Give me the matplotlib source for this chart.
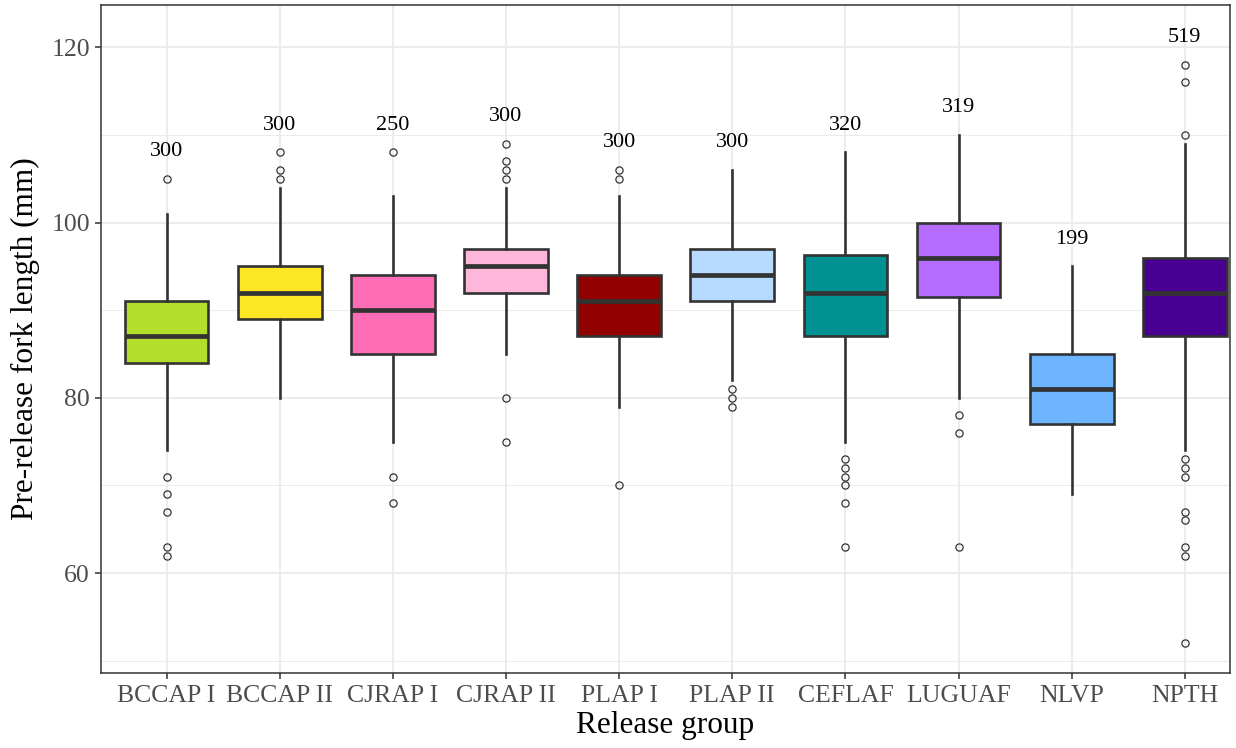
import matplotlib
matplotlib.use("Agg")
import matplotlib.pyplot as plt
from matplotlib.ticker import MultipleLocator

groups = ["BCCAP I", "BCCAP II", "CJRAP I", "CJRAP II", "PLAP I",
          "PLAP II", "CEFLAF", "LUGUAF", "NLVP", "NPTH"]
counts = [300, 300, 250, 300, 300, 300, 320, 319, 199, 519]

q1 = [84, 89, 85, 92, 87, 91, 87, 91.5, 77, 87]
median = [87, 92, 90, 95, 91, 94, 92, 96, 81, 92]
q3 = [91, 95, 94, 97, 94, 97, 96.25, 100, 85, 96]
whisk_lo = [74, 80, 75, 85, 79, 82, 75, 80, 69, 74]
whisk_hi = [101, 104, 103, 104, 103, 106, 108, 110, 95, 109]
outliers = [
    [105, 71, 69, 67, 63, 62],
    [108, 106, 105],
    [108, 71, 68],
    [109, 107, 106, 105, 80, 75],
    [106, 105, 70],
    [81, 80, 79],
    [73, 72, 71, 70, 68, 63],
    [78, 76, 63],
    [],
    [118, 116, 110, 73, 72, 71, 67, 66, 63, 62, 52],
]

colors = ["#B4DE2C", "#FDE725", "#FF6DB6", "#FFB6DB", "#920000",
          "#B6DBFF", "#009292", "#B66DFF", "#6DB6FF", "#490092"]

plt.rcParams["font.family"] = ["Liberation Serif", "DejaVu Serif"]

fig = plt.figure(figsize=(12.36, 7.48), dpi=100)
ax = fig.add_axes([0.0817, 0.1003, 0.9135, 0.8927])

stats = []
for i, g in enumerate(groups):
    stats.append(dict(label=g, q1=q1[i], med=median[i], q3=q3[i],
                      whislo=whisk_lo[i], whishi=whisk_hi[i],
                      fliers=outliers[i]))

edge = "#333333"
bp = ax.bxp(stats, positions=range(len(groups)), widths=0.74,
            patch_artist=True, showcaps=False, zorder=3,
            boxprops=dict(edgecolor=edge, linewidth=1.9),
            whiskerprops=dict(color=edge, linewidth=1.9),
            medianprops=dict(color=edge, linewidth=3.4, solid_capstyle="butt"),
            flierprops=dict(marker="o", markersize=5.2, markerfacecolor="none",
                            markeredgecolor=edge, markeredgewidth=0.9))
for patch, c in zip(bp["boxes"], colors):
    patch.set_facecolor(c)

# sample size above each group's highest observation
for i, n in enumerate(counts):
    top = max([whisk_hi[i]] + outliers[i])
    ax.text(i, top + 3.1, str(n), ha="center", va="center",
            fontsize=16, color="black", zorder=4)

ax.set_xlim(-0.58, 9.4)
ax.set_ylim(48.6, 124.8)
ax.yaxis.set_major_locator(MultipleLocator(20))
ax.yaxis.set_minor_locator(MultipleLocator(10))
ax.set_xticks(range(len(groups)))
ax.set_xticklabels(groups)

ax.grid(which="major", color="#EBEBEB", linewidth=1.3, zorder=0)
ax.grid(which="minor", axis="y", color="#EBEBEB", linewidth=0.7, zorder=0)
ax.set_axisbelow(True)

for s in ax.spines.values():
    s.set_color("#333333")
    s.set_linewidth(1.1)

ax.tick_params(axis="both", which="major", labelsize=18.5, labelcolor="#4D4D4D",
               color="#333333", length=4.5, width=1.1)
ax.tick_params(axis="y", which="minor", length=0)
ax.tick_params(axis="x", pad=4)

ax.set_xlabel("Release group", fontsize=22.5, labelpad=3)
ax.set_ylabel("Pre-release fork length (mm)", fontsize=22.5, labelpad=8)

fig.savefig("out.png", dpi=100, facecolor="white")
